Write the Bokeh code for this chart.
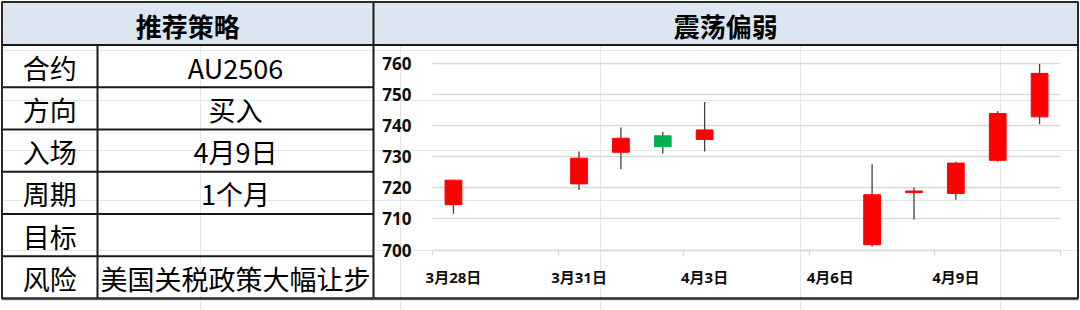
from bokeh.plotting import figure
from bokeh.models import (Range1d, LinearAxis, Grid, FixedTicker, ColumnDataSource,
                          CustomJSTickFormatter)
from bokeh.core.properties import value
from bokeh.embed import file_html
from bokeh.resources import INLINE

# ---------------- table content ----------------
header_left = "推荐策略"
header_right = "震荡偏弱"
row_labels = ["合约", "方向", "入场", "周期", "目标", "风险"]
row_values = ["AU2506", "买入", "4月9日", "1个月", "", "美国关税政策大幅让步"]

# ---------------- daily candles ----------------
calendar = ["3月28日", "3月29日", "3月30日", "3月31日", "4月1日", "4月2日", "4月3日",
            "4月4日", "4月5日", "4月6日", "4月7日", "4月8日", "4月9日", "4月10日", "4月11日"]
trade_days = ["3月28日", "3月31日", "4月1日", "4月2日", "4月3日",
              "4月7日", "4月8日", "4月9日", "4月10日", "4月11日"]
open_ = [714.6, 721.3, 731.5, 736.8, 735.6, 701.7, 718.5, 718.2, 728.9, 742.9]
high = [722.6, 731.7, 739.5, 738.1, 747.7, 727.6, 720.1, 728.4, 744.8, 759.9]
low = [711.7, 719.3, 726.0, 731.1, 731.7, 701.1, 709.8, 716.2, 728.4, 740.5]
close = [722.5, 729.6, 736.0, 733.3, 738.7, 717.8, 719.0, 728.0, 744.0, 756.9]
price_ticks = [700, 710, 720, 730, 740, 750, 760]
label_every = 3

# ---------------- page geometry (canvas pixels) ----------------
W, H = 1080, 310
LEFT, RIGHT, TOP, BOTTOM = 1.5, 1077.5, 1.5, 298.0
HEAD_BOTTOM = 44.5
COL_SPLIT = 97.0
PANEL_SPLIT = 373.0
PLOT_L, PLOT_R = 432.0, 1060.0
PX_LO, PX_HI = 249.5, 63.3          # rows of lowest / highest price tick

UP, DOWN, WICK = "#FF0000", "#00B050", "#404040"
GRID = "#D9D9D9"
INK = "#0D0D0D"
CJK = "Noto Sans CJK SC"
AXIS_FONT = "Open Sans, Noto Sans CJK SC"
BODY_SIZE = "27px"

n = len(calendar)
px_day = (PLOT_R - PLOT_L) / n
day_range = Range1d(-0.5 - PLOT_L / px_day, -0.5 + (W - PLOT_L) / px_day)
p_lo, p_hi = price_ticks[0], price_ticks[-1]
px_unit = (PX_LO - PX_HI) / (p_hi - p_lo)
price_range = Range1d(p_lo - (H - PX_LO) / px_unit, p_lo + PX_LO / px_unit)

p = figure(width=W, height=H, x_range=Range1d(0, W), y_range=Range1d(H, 0),
           output_backend="svg", toolbar_location=None,
           x_axis_location=None, y_axis_location=None, min_border=0)
p.outline_line_color = None
p.background_fill_color = "white"
p.border_fill_color = "white"
p.extra_x_ranges = {"day": day_range}
p.extra_y_ranges = {"price": price_range}

# ---------------- table frame ----------------
p.quad(left=LEFT, right=RIGHT, top=TOP, bottom=HEAD_BOTTOM,
       fill_color="#DCE6F1", line_color=None)

n_rows = len(row_labels)
row_h = (BOTTOM - HEAD_BOTTOM) / n_rows
row_lines = [HEAD_BOTTOM + k * row_h for k in range(1, n_rows)]

x0 = [LEFT, LEFT, PANEL_SPLIT, COL_SPLIT] + [LEFT] * len(row_lines)
x1 = [RIGHT, RIGHT, PANEL_SPLIT, COL_SPLIT] + [PANEL_SPLIT] * len(row_lines)
y0 = [HEAD_BOTTOM, BOTTOM, TOP, HEAD_BOTTOM] + row_lines
y1 = [HEAD_BOTTOM, BOTTOM, BOTTOM, BOTTOM] + row_lines
p.segment(x0=x0, y0=y0, x1=x1, y1=y1, line_color="#1A1A1A", line_width=2)
p.quad(left=LEFT, right=RIGHT, top=TOP, bottom=BOTTOM, fill_color=None,
       line_color="#2B2B2B", line_width=2)

# header texts
p.text(x=[(LEFT + PANEL_SPLIT) / 2, (PANEL_SPLIT + RIGHT) / 2],
       y=[(TOP + HEAD_BOTTOM) / 2 + 1.5] * 2,
       text=[header_left, header_right], text_font=value(CJK),
       text_font_style="bold", text_font_size="26px", text_color="#000000",
       text_align="center", text_baseline="middle")

# row texts
centers = [HEAD_BOTTOM + (k + 0.5) * row_h + 1 for k in range(n_rows)]
p.text(x=[(LEFT + COL_SPLIT) / 2] * n_rows, y=centers, text=row_labels,
       text_font=value(CJK), text_font_size=BODY_SIZE, text_color="#000000",
       text_align="center", text_baseline="middle")
p.text(x=[(COL_SPLIT + PANEL_SPLIT) / 2] * n_rows, y=centers, text=row_values,
       text_font=value(CJK), text_font_size=BODY_SIZE, text_color="#000000",
       text_align="center", text_baseline="middle")

# ---------------- candlestick chart ----------------
xs = [calendar.index(d) for d in trade_days]
src = ColumnDataSource(dict(
    x=xs, high=high, low=low,
    top=[max(o, c) for o, c in zip(open_, close)],
    bottom=[min(o, c) for o, c in zip(open_, close)],
    color=[UP if c >= o else DOWN for o, c in zip(open_, close)],
))

grid = Grid(dimension=1, ticker=FixedTicker(ticks=price_ticks),
            x_range_name="day", y_range_name="price",
            cross_bounds=(-0.5, n - 0.5),
            grid_line_color=GRID, grid_line_width=1.3)
p.add_layout(grid)

p.segment(x0="x", y0="low", x1="x", y1="high", source=src,
          x_range_name="day", y_range_name="price",
          line_color=WICK, line_width=1.3)
p.vbar(x="x", width=0.4, top="top", bottom="bottom", source=src,
       x_range_name="day", y_range_name="price",
       fill_color="color", line_color="color", line_width=1)

# price axis
yax = LinearAxis(x_range_name="day", y_range_name="price", fixed_location=-0.5,
                 ticker=FixedTicker(ticks=price_ticks),
                 axis_line_color=None, major_tick_line_color=None,
                 minor_tick_line_color=None, major_tick_in=0, major_tick_out=0,
                 major_label_standoff=21,
                 major_label_text_font=AXIS_FONT, major_label_text_font_style="bold",
                 major_label_text_font_size="17px", major_label_text_color=INK)
p.add_layout(yax, "left")

# category boundary ticks along the base line
bounds_ticks = [k - 0.5 for k in range(0, n + 1, label_every)]
bax = LinearAxis(x_range_name="day", y_range_name="price", fixed_location=p_lo,
                 ticker=FixedTicker(ticks=bounds_ticks), bounds=(-0.5, n - 0.5),
                 axis_line_color=GRID, axis_line_width=1.3,
                 major_tick_line_color=GRID, major_tick_line_width=1.3,
                 major_tick_in=0, major_tick_out=5, minor_tick_line_color=None,
                 formatter=CustomJSTickFormatter(code="return ''"))
p.add_layout(bax, "below")

# date labels
label_ticks = list(range(0, n, label_every))
xax = LinearAxis(x_range_name="day", y_range_name="price", fixed_location=p_lo,
                 ticker=FixedTicker(ticks=label_ticks),
                 major_label_overrides={t: calendar[t] for t in label_ticks},
                 axis_line_color=None, major_tick_line_color=None,
                 minor_tick_line_color=None, major_tick_in=0, major_tick_out=0,
                 major_label_standoff=17,
                 major_label_text_font=AXIS_FONT, major_label_text_font_style="bold",
                 major_label_text_font_size="15px", major_label_text_color=INK)
p.add_layout(xax, "below")

open("out.html", "w").write(file_html(p, INLINE))
